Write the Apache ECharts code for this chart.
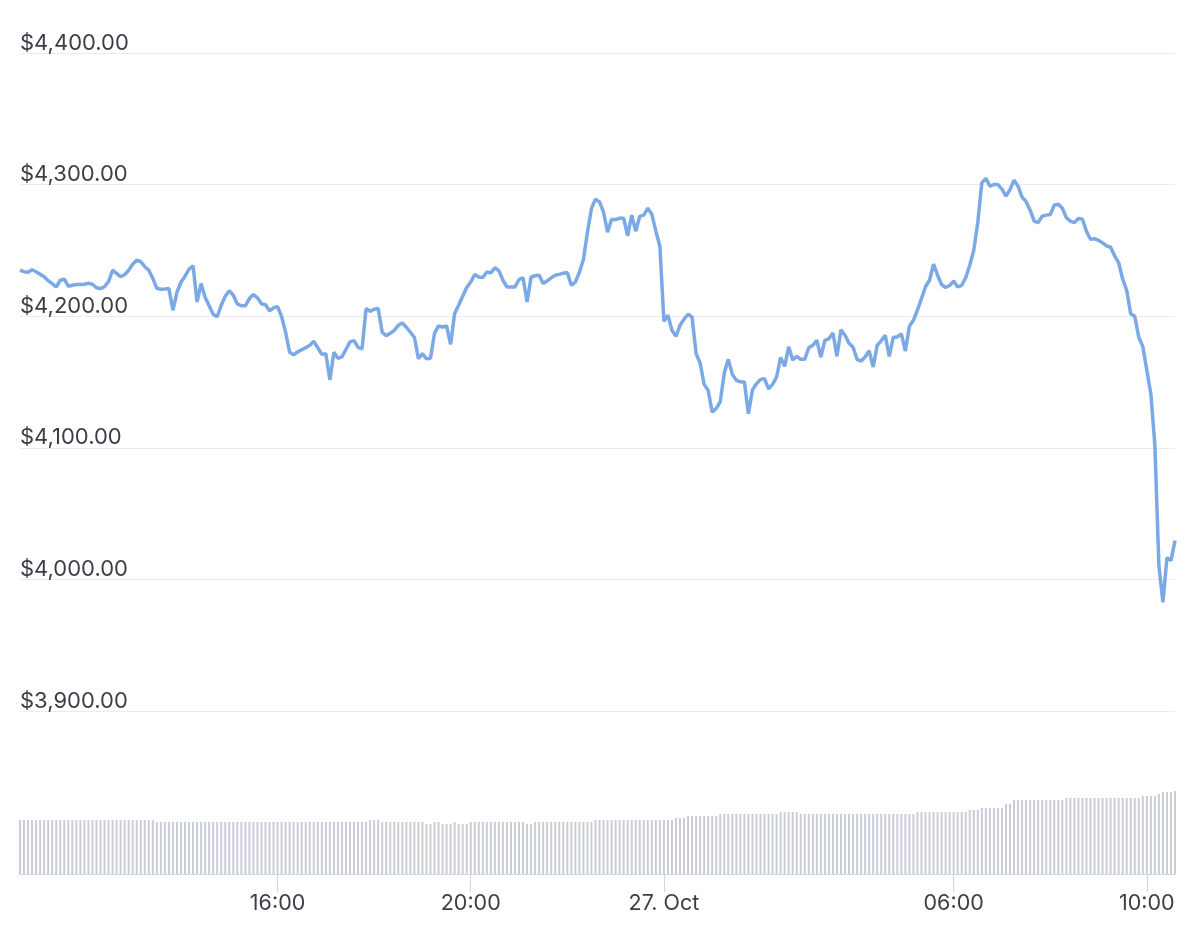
<!DOCTYPE html>
<html><head><meta charset="utf-8">
<script src="https://cdn.jsdelivr.net/npm/echarts@6/dist/echarts.min.js"></script>
<style>html,body{margin:0;padding:0;background:#fff}#c{width:1200px;height:925px}</style>
</head><body><div id="c"></div>
<script>
// Sampling: every 5 minutes, starting 26 Oct 10:40
const startTime = '2025-10-26T10:40:00Z';
const stepMinutes = 5;
const axisEnd = '2025-10-27T10:35:00Z';
const xTickTimes = ['2025-10-26T16:00:00Z','2025-10-26T20:00:00Z','2025-10-27T00:00:00Z','2025-10-27T06:00:00Z','2025-10-27T10:00:00Z'];
const yMin = 3900, yMax = 4400, yStep = 100;

const prices = [
4234.9,4233.8,4233.4,4235.3,4233.8,4231.9,4230.0,4227.0,4224.7,4222.2,
4227.3,4228.1,4222.8,4223.5,4224.1,4224.1,4224.3,4225.0,4224.3,4221.6,
4221.0,4222.4,4226.2,4234.9,4232.6,4230.0,4231.5,4234.9,4239.5,4242.5,
4241.4,4237.6,4234.9,4228.8,4221.2,4220.5,4220.7,4221.0,4204.5,4218.2,
4225.8,4230.4,4235.7,4238.3,4210.8,4224.8,4214.4,4207.9,4201.5,4199.6,
4208.3,4215.2,4219.4,4215.9,4209.4,4207.9,4207.9,4213.4,4216.4,4214.0,
4209.4,4208.7,4204.1,4206.4,4207.3,4199.9,4187.8,4172.6,4170.7,4172.9,
4174.5,4176.1,4177.9,4180.9,4176.0,4171.0,4171.4,4151.5,4172.6,4168.0,
4169.1,4174.8,4180.5,4181.5,4176.4,4175.2,4205.8,4203.7,4205.3,4205.8,
4187.8,4185.1,4187.0,4189.3,4193.1,4194.8,4191.6,4187.8,4184.0,4167.8,
4171.6,4167.6,4168.0,4187.0,4192.6,4191.8,4192.6,4178.6,4202.0,4208.3,
4215.2,4221.8,4226.0,4231.7,4229.8,4229.4,4233.6,4232.9,4236.8,4234.5,
4227.3,4222.2,4222.2,4222.2,4227.9,4229.1,4210.8,4229.8,4230.7,4231.1,
4224.8,4226.9,4229.1,4231.1,4231.8,4232.7,4233.2,4223.5,4226.0,4233.4,
4243.1,4263.8,4281.9,4288.9,4286.9,4279.1,4263.8,4273.7,4273.3,4274.5,
4274.5,4261.0,4276.8,4264.6,4275.9,4276.8,4282.1,4277.5,4264.6,4253.2,
4196.1,4200.7,4189.3,4184.7,4193.1,4197.7,4201.5,4199.2,4171.6,4164.4,
4148.2,4143.6,4127.1,4129.9,4134.9,4156.8,4167.2,4155.8,4151.3,4150.1,
4150.0,4125.9,4144.0,4148.6,4152.0,4152.5,4144.8,4148.2,4153.8,4168.7,
4161.9,4176.7,4166.8,4169.5,4167.2,4167.2,4176.0,4177.9,4181.7,4169.0,
4181.7,4182.8,4187.2,4169.5,4189.7,4185.5,4179.4,4176.4,4167.2,4165.9,
4169.0,4173.7,4161.4,4177.9,4181.3,4185.5,4169.5,4184.0,4184.2,4186.6,
4173.5,4192.3,4196.9,4204.5,4213.3,4222.4,4227.3,4239.5,4231.1,4224.1,
4221.8,4223.3,4226.8,4222.2,4223.5,4229.2,4238.7,4250.1,4271.4,4301.3,
4304.7,4298.8,4300.0,4300.0,4296.5,4291.2,4296.2,4303.4,4298.8,4290.5,
4287.0,4280.6,4272.2,4271.1,4276.0,4276.8,4277.2,4284.4,4285.1,4282.1,
4274.9,4272.2,4271.1,4274.3,4273.7,4264.6,4258.5,4258.9,4257.7,4255.7,
4253.4,4252.4,4245.9,4240.6,4228.1,4219.7,4201.8,4199.9,4184.0,4177.1,
4158.9,4141.1,4101.8,4010.5,3982.6,4016.6,4014.3,4029.5
];

const volumes = [
27,27,27,27,27,27,27,27,27,27,
27,27,27,27,27,27,27,27,27,27,
27,27,27,27,27,27,27,27,27,27,
27,27,27,27,26,26,26,26,26,26,
26,26,26,26,26,26,26,26,26,26,
26,26,26,26,26,26,26,26,26,26,
26,26,26,26,26,26,26,26,26,26,
26,26,26,26,26,26,26,26,26,26,
26,26,26,26,26,26,26,27,27,27,
26,26,26,26,26,26,26,26,26,26,
26,25,25,26,26,25,25,25,26,25,
25,25,26,26,26,26,26,26,26,26,
26,26,26,26,26,26,25,25,26,26,
26,26,26,26,26,26,26,26,26,26,
26,26,26,27,27,27,27,27,27,27,
27,27,27,27,27,27,27,27,27,27,
27,27,27,28,28,28,29,29,29,29,
29,29,29,29,30,30,30,30,30,30,
30,30,30,30,30,30,30,30,30,31,
31,31,31,31,30,30,30,30,30,30,
30,30,30,30,30,30,30,30,30,30,
30,30,30,30,30,30,30,30,30,30,
30,30,30,31,31,31,31,31,31,31,
31,31,31,31,31,31,32,32,32,33,
33,33,33,33,33,35,35,37,37,37,
37,37,37,37,37,37,37,37,37,37,
38,38,38,38,38,38,38,38,38,38,
38,38,38,38,38,38,38,38,38,39,
39,39,39,40,41,41,41,41.5
];

const months = ['Jan','Feb','Mar','Apr','May','Jun','Jul','Aug','Sep','Oct','Nov','Dec'];
const t0 = Date.parse(startTime);
const tEnd = Date.parse(axisEnd);
const stepMs = stepMinutes * 60000;
const tickValues = xTickTimes.map(s => Date.parse(s));
const pad = n => (n < 10 ? '0' : '') + n;
function fmtTime(v) {
  const d = new Date(v);
  const h = d.getUTCHours(), m = d.getUTCMinutes();
  if (h === 0 && m === 0) return d.getUTCDate() + '. ' + months[d.getUTCMonth()];
  return pad(h) + ':' + pad(m);
}
const textColor = '#3a3f47';
const font = 'Inter';

const chart = echarts.init(document.getElementById('c'));
chart.setOption({
  animation: false,
  backgroundColor: '#ffffff',
  grid: [
    { left: 20, right: 25, top: 53, bottom: 214 },
    { left: 20, right: 25, bottom: 51, height: 100 }
  ],
  xAxis: [
    { type: 'value', gridIndex: 0, min: t0, max: tEnd, show: false, splitLine: { show: false } },
    { type: 'value', gridIndex: 1, min: t0, max: tEnd,
      axisLine: { show: true, lineStyle: { color: '#ccd6eb', width: 1 } },
      axisTick: { show: true, length: 18, customValues: tickValues, lineStyle: { color: '#ccd6eb', width: 1 } },
      axisLabel: { customValues: tickValues, formatter: fmtTime, margin: 19, fontFamily: font, fontSize: 21.5, color: textColor },
      splitLine: { show: false }
    }
  ],
  yAxis: [
    { type: 'value', gridIndex: 0, min: yMin, max: yMax, interval: yStep,
      axisLine: { show: false }, axisTick: { show: false },
      splitLine: { show: true, lineStyle: { color: '#e9ecf1', width: 1 } },
      axisLabel: { inside: true, margin: 0, align: 'left', verticalAlign: 'bottom', lineHeight: 20, padding: 0,
        fontFamily: font, fontSize: 22, color: textColor,
        formatter: v => '$' + v.toLocaleString('en-US', { minimumFractionDigits: 2, maximumFractionDigits: 2 }) }
    },
    { type: 'value', gridIndex: 1, min: 0, max: 50, show: false }
  ],
  series: [
    { type: 'bar', xAxisIndex: 1, yAxisIndex: 1, barWidth: 2,
      itemStyle: { color: '#c9cdd6' },
      data: volumes.map((v, i) => [t0 + i * stepMs, v]) },
    { type: 'line', xAxisIndex: 0, yAxisIndex: 0, symbol: 'none', smooth: false,
      lineStyle: { color: '#7aa9e6', width: 3.5 },
      data: prices.map((p, i) => [t0 + i * stepMs, p]) }
  ]
});
</script>
</body></html>
